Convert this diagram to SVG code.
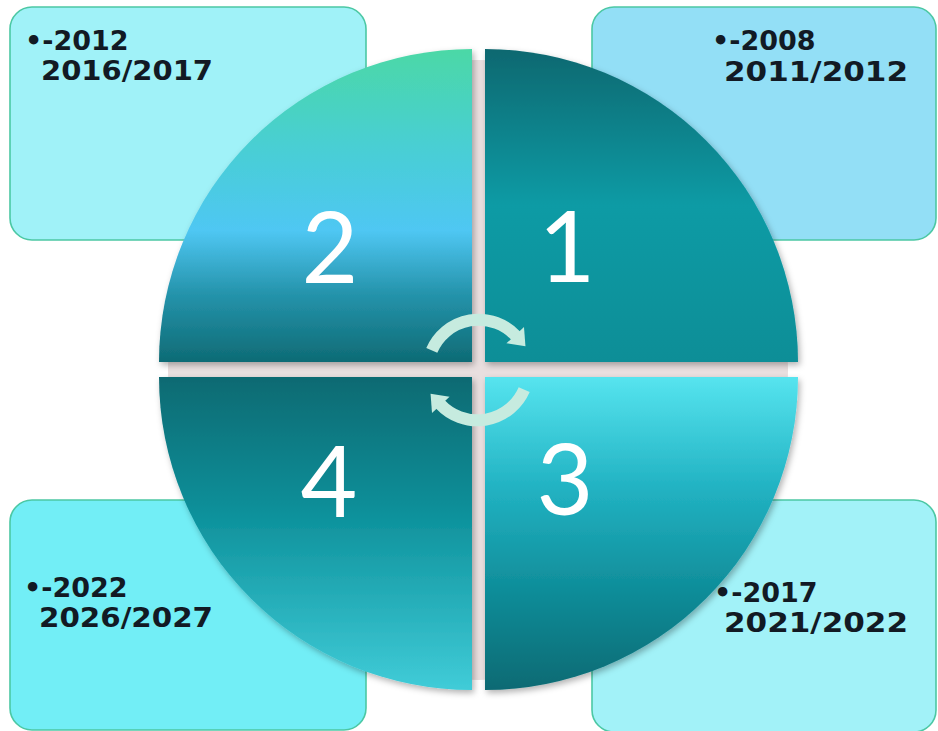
<svg xmlns="http://www.w3.org/2000/svg" width="938" height="731" viewBox="0 0 938 731">
<style>
.box{stroke:#4cc8a4;stroke-width:1.6}
.yr{font-family:"DejaVu Sans","Liberation Sans",sans-serif;font-weight:bold;font-size:27px;fill:#121a24}
.num{font-family:Lato,"Open Sans",sans-serif;font-size:98px;fill:#ffffff;text-anchor:middle}
.arr{fill:none;stroke:#c6ebdf;stroke-width:12}
</style>
<defs>
<linearGradient id="g2" x1="0" y1="0" x2="0" y2="1">
<stop offset="0" stop-color="#4cd8a6"/>
<stop offset="0.3" stop-color="#48cfd2"/>
<stop offset="0.58" stop-color="#4fc7f3"/>
<stop offset="0.78" stop-color="#2594ac"/>
<stop offset="1" stop-color="#0e6b75"/>
</linearGradient>
<linearGradient id="g1" x1="0" y1="0" x2="0" y2="1">
<stop offset="0" stop-color="#0b6870"/>
<stop offset="0.5" stop-color="#0a9ba5"/>
<stop offset="1" stop-color="#0b8e97"/>
</linearGradient>
<linearGradient id="g3" x1="0" y1="0" x2="0" y2="1">
<stop offset="0" stop-color="#56e4ef"/>
<stop offset="0.35" stop-color="#22b3c3"/>
<stop offset="0.7" stop-color="#0e8b97"/>
<stop offset="1" stop-color="#0a6a73"/>
</linearGradient>
<linearGradient id="g4" x1="0" y1="0" x2="0" y2="1">
<stop offset="0" stop-color="#0b6a72"/>
<stop offset="0.4" stop-color="#0a8d97"/>
<stop offset="1" stop-color="#40ccd8"/>
</linearGradient>
<filter id="sh" x="-10%" y="-10%" width="120%" height="120%">
<feDropShadow dx="2" dy="3" stdDeviation="3" flood-color="#000" flood-opacity="0.3"/>
</filter>
<marker id="ah" markerUnits="userSpaceOnUse" markerWidth="30" markerHeight="30" refX="1" refY="12" orient="auto" overflow="visible">
<path d="M0,0 L15,12 L0,24 Z" fill="#c6ebdf"/>
</marker>
</defs>
<rect width="938" height="731" fill="#ffffff"/>
<g id="box-tl"><rect class="box" x="10" y="7" width="356" height="233" rx="22" fill="#a0f2f8"/>
<text class="yr" x="25" y="50">•-2012</text>
<text class="yr" x="41" y="80" textLength="172" lengthAdjust="spacingAndGlyphs">2016/2017</text></g>
<g id="box-tr"><rect class="box" x="592" y="7" width="344" height="233" rx="22" fill="#93dff6"/>
<text class="yr" x="712" y="50">•-2008</text>
<text class="yr" x="724" y="81" textLength="184" lengthAdjust="spacingAndGlyphs">2011/2012</text></g>
<g id="box-bl"><rect class="box" x="10" y="500" width="356" height="230" rx="22" fill="#72eef6"/>
<text class="yr" x="24" y="597">•-2022</text>
<text class="yr" x="39" y="627" textLength="174" lengthAdjust="spacingAndGlyphs">2026/2027</text></g>
<g id="box-br"><rect class="box" x="592" y="500" width="344" height="232" rx="22" fill="#a2f2f8"/>
<text class="yr" x="714" y="602">•-2017</text>
<text class="yr" x="724" y="632" textLength="184" lengthAdjust="spacingAndGlyphs">2021/2022</text></g>
<circle cx="478" cy="370" r="310" fill="#e9dfdf"/>
<g id="q2"><path d="M472,49 A313,313 0 0 0 159,362 L472,362 Z" fill="url(#g2)" filter="url(#sh)"/>
<text class="num" x="330" y="283">2</text></g>
<g id="q1"><path d="M485,49 A313,313 0 0 1 798,362 L485,362 Z" fill="url(#g1)" filter="url(#sh)"/>
<text class="num" x="567" y="282">1</text></g>
<g id="q4"><path d="M159,377 L472,377 L472,690 A313,313 0 0 1 159,377 Z" fill="url(#g4)" filter="url(#sh)"/>
<text class="num" x="329" y="517">4</text></g>
<g id="q3"><path d="M485,377 L798,377 A313,313 0 0 1 485,690 Z" fill="url(#g3)" filter="url(#sh)"/>
<text class="num" x="565" y="515">3</text></g>
<g id="connectors">
<path class="arr" d="M431.8,350.4 A51,51 0 0 1 515.9,335.9" marker-end="url(#ah)"/>
<path class="arr" d="M524.2,389.6 A51,51 0 0 1 440.1,404.1" marker-end="url(#ah)"/>
</g>
</svg>
